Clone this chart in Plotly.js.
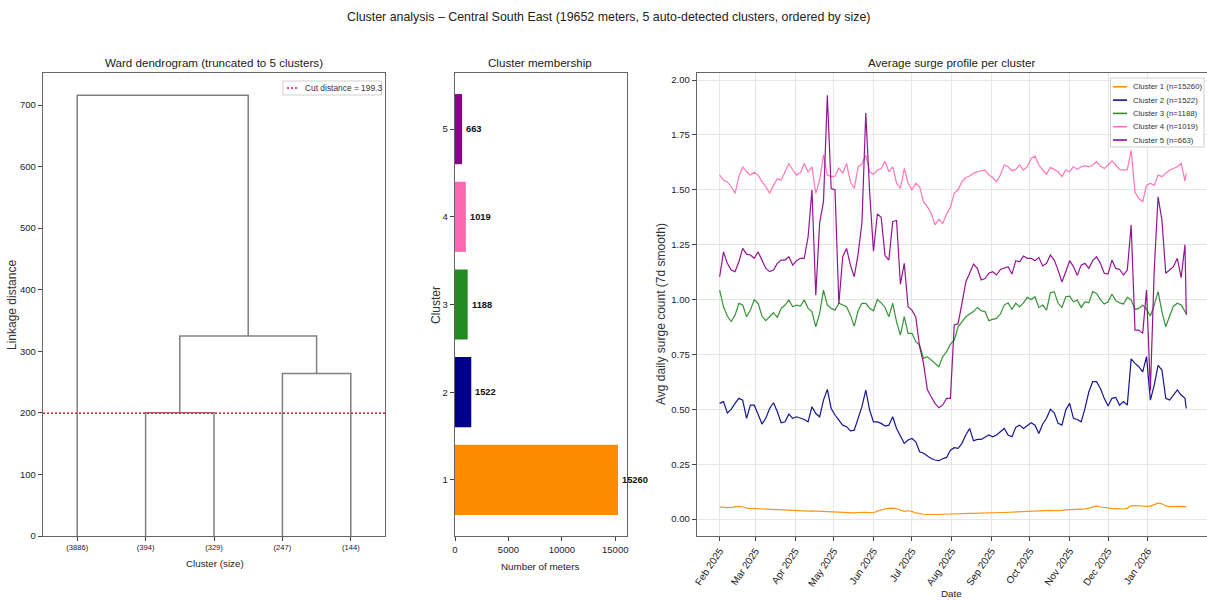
<!DOCTYPE html>
<html><head><meta charset="utf-8">
<script src="https://cdn.plot.ly/plotly-3.0.1.min.js"></script>
<style>html,body{margin:0;padding:0;background:#fff}</style>
</head><body><div id="chart" style="width:1207px;height:601px"></div>
<script>
// ---------- DATA ----------
const leafLabels = ['(3886)','(394)','(329)','(247)','(144)'];
// Ward linkage (leaves 0-4, merges numbered 5+): child A, child B, height
const linkA = [1, 3, 5, 0];
const linkB = [2, 4, 6, 7];
const linkH = [200, 264, 325, 716];
const cutDistance = 199.3;

const clusterIds = [1, 2, 3, 4, 5];
const clusterSizes = [15260, 1522, 1188, 1019, 663];

const monthTicks = ['2025-02-01','2025-03-01','2025-04-01','2025-05-01','2025-06-01','2025-07-01',
  '2025-08-01','2025-09-01','2025-10-01','2025-11-01','2025-12-01','2026-01-01'];

const dates = [
'2025-02-01','2025-02-04','2025-02-07','2025-02-10','2025-02-13','2025-02-16','2025-02-19','2025-02-22','2025-02-25','2025-02-28',
'2025-03-03','2025-03-06','2025-03-09','2025-03-12','2025-03-15','2025-03-18','2025-03-21','2025-03-24','2025-03-27','2025-03-30',
'2025-04-02','2025-04-05','2025-04-08','2025-04-11','2025-04-14','2025-04-17','2025-04-20','2025-04-23','2025-04-26','2025-04-29',
'2025-05-02','2025-05-05','2025-05-08','2025-05-11','2025-05-14','2025-05-17','2025-05-20','2025-05-23','2025-05-26','2025-05-29',
'2025-06-01','2025-06-04','2025-06-07','2025-06-10','2025-06-13','2025-06-16','2025-06-19','2025-06-22','2025-06-25','2025-06-28',
'2025-07-01','2025-07-04','2025-07-07','2025-07-10','2025-07-13','2025-07-16','2025-07-19','2025-07-22','2025-07-25','2025-07-28',
'2025-07-31','2025-08-03','2025-08-06','2025-08-09','2025-08-12','2025-08-15','2025-08-18','2025-08-21','2025-08-24','2025-08-27',
'2025-08-30','2025-09-02','2025-09-05','2025-09-08','2025-09-11','2025-09-14','2025-09-17','2025-09-20','2025-09-23','2025-09-26',
'2025-09-29','2025-10-02','2025-10-05','2025-10-08','2025-10-11','2025-10-14','2025-10-17','2025-10-20','2025-10-23','2025-10-26',
'2025-10-29','2025-11-01','2025-11-04','2025-11-07','2025-11-10','2025-11-13','2025-11-16','2025-11-19','2025-11-22','2025-11-25',
'2025-11-28','2025-12-01','2025-12-04','2025-12-07','2025-12-10','2025-12-13','2025-12-16','2025-12-19','2025-12-22','2025-12-25',
'2025-12-28','2025-12-31','2026-01-03','2026-01-06','2026-01-09','2026-01-12','2026-01-15','2026-01-18','2026-01-21','2026-01-24',
'2026-01-27','2026-01-30','2026-01-31'];

const cluster1 = [
.055,.053,.052,.053,.056,.058,.055,.050,.049,.048,
.046,.045,.044,.046,.045,.042,.042,.041,.040,.040,
.039,.038,.036,.036,.037,.036,.035,.036,.035,.034,
.033,.033,.032,.031,.029,.028,.030,.032,.031,.030,
.029,.036,.043,.047,.049,.050,.047,.040,.035,.038,
.035,.028,.024,.022,.021,.020,.020,.021,.022,.023,
.024,.024,.025,.025,.026,.026,.026,.027,.027,.028,
.028,.028,.029,.030,.030,.031,.032,.033,.034,.035,
.036,.037,.037,.036,.037,.038,.040,.039,.038,.040,
.042,.043,.043,.045,.044,.047,.050,.055,.060,.055,
.052,.050,.049,.048,.047,.046,.050,.061,.062,.060,
.058,.058,.059,.067,.073,.070,.060,.057,.058,.059,
.058,.057,.057];

const cluster2 = [
.527,.535,.484,.500,.527,.550,.542,.459,.519,.519,
.478,.433,.459,.504,.530,.489,.439,.443,.478,.459,
.466,.459,.454,.443,.512,.481,.466,.542,.591,.504,
.474,.451,.428,.421,.402,.405,.459,.512,.588,.497,
.443,.443,.436,.424,.428,.466,.413,.375,.345,.360,
.367,.352,.307,.300,.287,.276,.269,.266,.275,.281,
.314,.325,.322,.345,.383,.413,.357,.363,.363,.375,
.383,.375,.383,.398,.413,.383,.375,.418,.428,.413,
.428,.439,.428,.390,.433,.459,.500,.484,.436,.428,
.497,.527,.459,.454,.443,.504,.580,.626,.626,.595,
.550,.515,.550,.554,.519,.535,.519,.730,.709,.694,
.671,.740,.542,.610,.700,.679,.550,.542,.565,.588,
.565,.550,.504];

const cluster3 = [
1.043,.967,.925,.900,.929,.983,.975,.922,.952,1.000,
.983,.925,.904,.922,.940,.919,.960,.975,.998,.967,
.975,.970,.998,.960,.945,.876,.937,1.043,.975,.960,
.952,.983,.975,.967,.929,.879,.949,.983,.983,.960,
.949,1.000,.985,.964,.922,.983,.898,.838,.922,.846,
.846,.808,.793,.732,.740,.724,.710,.694,.740,.762,
.797,.815,.876,.899,.922,.934,.945,.964,.949,.945,
.904,.910,.914,.934,.975,.985,.955,.983,.967,.985,
1.010,1.000,1.013,.964,.975,.952,1.031,1.036,.983,.964,
1.013,1.016,.990,.998,.964,.990,.985,1.036,1.028,1.000,
.980,.990,1.025,.995,.985,.980,1.010,.998,.955,.960,
.975,.955,.925,.975,1.036,.945,.876,.925,.970,.983,
.975,.945,.937];

const cluster4 = [
1.567,1.544,1.536,1.514,1.484,1.560,1.605,1.582,1.567,1.580,
1.567,1.537,1.514,1.484,1.520,1.550,1.544,1.580,1.620,1.590,
1.567,1.578,1.620,1.580,1.605,1.484,1.544,1.660,1.567,1.560,
1.562,1.600,1.575,1.620,1.536,1.506,1.605,1.617,1.658,1.582,
1.570,1.590,1.597,1.630,1.582,1.605,1.530,1.506,1.597,1.530,
1.500,1.530,1.514,1.446,1.423,1.393,1.340,1.365,1.347,1.390,
1.420,1.484,1.500,1.537,1.556,1.563,1.575,1.582,1.587,1.590,
1.567,1.556,1.537,1.567,1.613,1.605,1.587,1.593,1.613,1.590,
1.605,1.643,1.653,1.613,1.590,1.572,1.602,1.590,1.582,1.560,
1.590,1.582,1.605,1.593,1.605,1.610,1.605,1.613,1.628,1.608,
1.597,1.613,1.632,1.613,1.593,1.590,1.593,1.680,1.490,1.460,
1.446,1.520,1.530,1.520,1.567,1.560,1.575,1.590,1.597,1.605,
1.620,1.540,1.575];

const cluster5 = [
1.104,1.217,1.165,1.134,1.127,1.172,1.233,1.207,1.203,1.188,
1.217,1.180,1.142,1.127,1.134,1.165,1.180,1.180,1.195,1.157,
1.177,1.188,1.188,1.286,1.500,1.020,1.350,1.446,1.930,1.506,
1.500,0.980,1.195,1.233,1.157,1.104,1.207,1.350,1.850,1.490,
1.220,1.390,1.375,1.200,1.180,1.355,1.360,1.070,1.165,0.967,
0.952,0.920,0.785,0.710,0.590,0.557,0.527,0.507,0.520,0.550,
0.550,0.884,0.890,0.983,1.080,1.120,1.162,1.142,1.089,1.096,
1.120,1.127,1.112,1.137,1.142,1.150,1.116,1.177,1.172,1.198,
1.188,1.188,1.177,1.192,1.153,1.165,1.203,1.180,1.134,1.080,
1.127,1.177,1.150,1.110,1.157,1.165,1.142,1.177,1.195,1.165,
1.120,1.116,1.180,1.142,1.137,1.112,1.134,1.340,0.861,0.861,
0.846,1.043,0.587,1.134,1.468,1.362,1.120,1.134,1.150,1.188,
1.100,1.250,0.930];

const profiles = [cluster1, cluster2, cluster3, cluster4, cluster5];

// ---------- STYLE ----------
const W = 1207, H = 601;
const colors = ['#FF8C00', '#00008B', '#228B22', '#FF69B4', '#8B008B'];
const fH = '"Liberation Sans", Arial, sans-serif';
const txt = '#222';
const px = v => v / W, py = v => 1 - v / H;
const yDom = [py(536), py(73)];
const cutColor = '#ff0a3c';
const cutDash = '2px,2px';

// ---------- TRACES ----------
const traces = [];

// dendrogram U-links
const nodeX = leafLabels.map((_, i) => 5 + 10 * i);
const nodeH = leafLabels.map(() => 0);
const dx = [], dy = [];
linkA.forEach((a, k) => {
  const b = linkB[k], h = linkH[k];
  dx.push(nodeX[a], nodeX[a], nodeX[b], nodeX[b], null);
  dy.push(nodeH[a], h, h, nodeH[b], null);
  nodeX.push((nodeX[a] + nodeX[b]) / 2);
  nodeH.push(h);
});
traces.push({type:'scatter', mode:'lines', x:dx, y:dy, xaxis:'x', yaxis:'y',
  line:{color:'#808080', width:1.5}, showlegend:false, hoverinfo:'skip'});
traces.push({type:'scatter', mode:'lines', x:[0, 10 * leafLabels.length], y:[cutDistance, cutDistance],
  xaxis:'x', yaxis:'y', showlegend:false,
  line:{color:cutColor, width:1.4, dash:cutDash}});

// membership bars
traces.push({type:'bar', orientation:'h', x:clusterSizes, y:clusterIds, width:0.8,
  marker:{color:colors}, xaxis:'x2', yaxis:'y2', showlegend:false});

// profiles
profiles.forEach((vals, i) => {
  traces.push({type:'scatter', mode:'lines', x:dates, y:vals, xaxis:'x3', yaxis:'y3',
    showlegend:false, line:{color:colors[i], width:1.2}, opacity:0.92});
});

// ---------- LAYOUT ----------
const axBase = {showline:true, mirror:true, linecolor:'#666', linewidth:1.3,
  ticks:'outside', ticklen:4, tickcolor:'#444', tickwidth:1,
  tickfont:{family:fH, size:9.5, color:txt}, zeroline:false, showgrid:false,
  automargin:false, fixedrange:true};

const ann = (text, x, y, o = {}) => Object.assign({text, x:px(x), y:py(y), xref:'paper', yref:'paper',
  showarrow:false, xanchor:'center', yanchor:'middle', font:{family:fH, size:9.8, color:txt}}, o);

const vFont = {family:fH, size:12, color:'#333'};
const annotations = [
  ann('Cluster analysis – Central South East (19652 meters, 5 auto-detected clusters, ordered by size)', 608.5, 17, {font:{family:fH, size:12.4, color:txt}}),
  ann('Ward dendrogram (truncated to 5 clusters)', 214, 62, {font:{family:fH, size:11.6, color:txt}}),
  ann('Cluster membership', 540, 62, {font:{family:fH, size:11.6, color:txt}}),
  ann('Average surge profile per cluster', 951, 62, {font:{family:fH, size:11.6, color:txt}}),
  ann('Cluster (size)', 215, 563),
  ann('Number of meters', 540, 566),
  ann('Date', 951, 593),
  ann('Linkage distance', 12, 305, {textangle:-90, font:vFont}),
  ann('Cluster', 436, 305, {textangle:-90, font:vFont}),
  ann('Avg daily surge count (7d smooth)', 661, 314, {textangle:-90, font:vFont})
];
clusterSizes.forEach((s, i) => {
  annotations.push({text:'<b>' + s + '</b>', x:s, y:clusterIds[i], xref:'x2', yref:'y2',
    xanchor:'left', yanchor:'middle', xshift:2, showarrow:false,
    font:{family:fH, size:9.3, color:'#111'}});
});

// legends (drawn as shapes + text)
const shapes = [];
const legendBox = (x0, y0, x1, y1) => shapes.push({type:'rect', xref:'paper', yref:'paper',
  x0:px(x0), x1:px(x1), y0:py(y1), y1:py(y0), layer:'above',
  fillcolor:'rgba(255,255,255,0.85)', line:{color:'#cfcfcf', width:1}});
const legendLine = (x0, x1, y, color, dash) => shapes.push({type:'line', xref:'paper', yref:'paper',
  x0:px(x0), x1:px(x1), y0:py(y), y1:py(y), layer:'above',
  line:{color, width:dash ? 1.4 : 1.5, dash:dash || 'solid'}});

legendBox(283, 81, 381.5, 95);
legendLine(287, 299, 88, cutColor, cutDash);
annotations.push(ann('Cut distance = ' + cutDistance, 302.5, 88, {xanchor:'left', font:{family:fH, size:8.4, color:'#333'}}));

legendBox(1110.5, 78, 1204, 147);
clusterIds.forEach((id, i) => {
  const yy = 86.8 + i * 13.3;
  legendLine(1113, 1127, yy, colors[i]);
  annotations.push(ann(`Cluster ${id} (n=${clusterSizes[i]})`, 1131, yy,
    {xanchor:'left', font:{family:fH, size:7.8, color:'#333'}}));
});

const layout = {
  width:W, height:H, margin:{l:0, r:0, t:0, b:0},
  paper_bgcolor:'#fff', plot_bgcolor:'#fff', showlegend:false,
  xaxis:Object.assign({}, axBase, {domain:[px(43), px(385)], range:[0, 50], anchor:'y',
    tickvals:leafLabels.map((_, i) => 5 + 10 * i), ticktext:leafLabels,
    tickfont:{family:fH, size:7.6, color:txt}}),
  yaxis:Object.assign({}, axBase, {domain:yDom, range:[0, 752], dtick:100, anchor:'x'}),
  xaxis2:Object.assign({}, axBase, {domain:[px(455), px(627)], range:[0, 16100], anchor:'y2',
    tickvals:[0, 5000, 10000, 15000], tickformat:'d'}),
  yaxis2:Object.assign({}, axBase, {domain:yDom, range:[0.36, 5.64], anchor:'x2', tickvals:clusterIds}),
  xaxis3:Object.assign({}, axBase, {domain:[px(697), 1], type:'date', anchor:'y3',
    range:['2025-01-14 08:00', '2026-02-16 04:00'], tickvals:monthTicks,
    tickformat:'%b %Y', tickangle:-56, tickfont:{family:fH, size:10, color:txt},
    showgrid:true, gridcolor:'#e6e6e6', gridwidth:1}),
  yaxis3:Object.assign({}, axBase, {domain:yDom, range:[-0.077, 2.032], anchor:'x3', mirror:false,
    tickvals:[0, 0.25, 0.5, 0.75, 1, 1.25, 1.5, 1.75, 2], tickformat:'.2f',
    showgrid:true, gridcolor:'#e6e6e6', gridwidth:1}),
  shapes, annotations
};

Plotly.newPlot('chart', traces, layout, {displayModeBar:false, staticPlot:true});
</script>
</body></html>
